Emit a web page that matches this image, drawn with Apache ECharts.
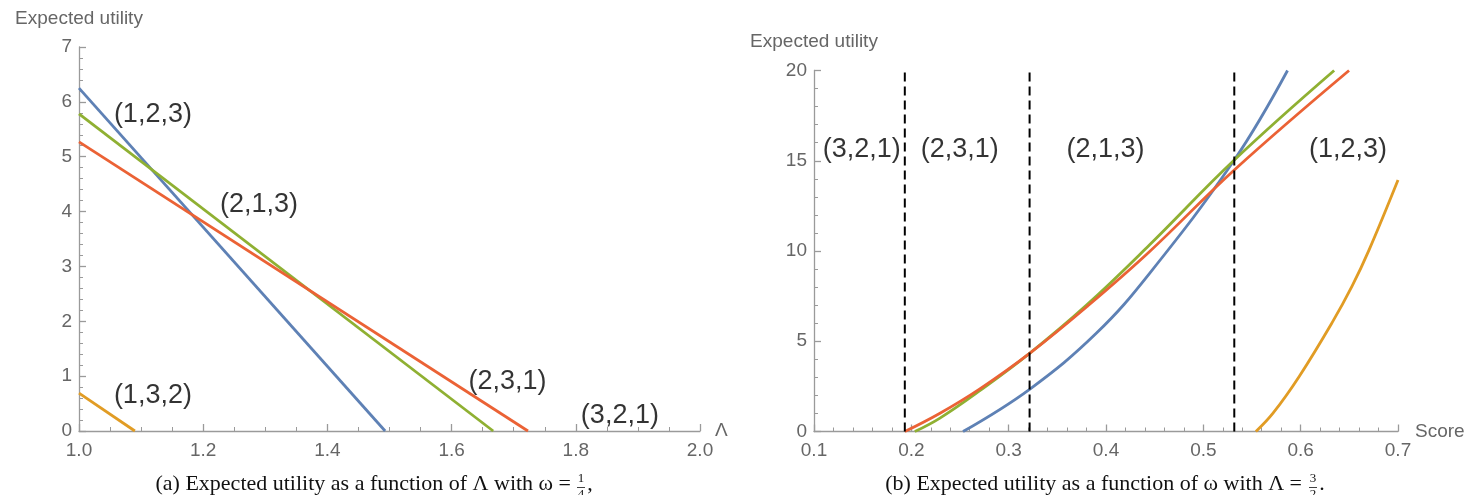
<!DOCTYPE html>
<html>
<head>
<meta charset="utf-8">
<script src="https://cdn.jsdelivr.net/npm/echarts@6/dist/echarts.min.js"></script>
<style>
html,body{margin:0;padding:0;background:#fff;}
#c{width:1469px;height:495px;}
</style>
</head>
<body>
<div id="c"></div>
<script>
// ---------- data ----------
// Panel (a): expected utility vs Lambda (omega = 1/4)
const aX123 = [1.0, 1.493];   const aY123 = [6.25, 0];
const aX132 = [1.0, 1.09];    const aY132 = [0.69, 0];
const aX213 = [1.0, 1.667];   const aY213 = [5.78, 0];
const aX231 = [1.0, 1.723];   const aY231 = [5.27, 0];
const aXTicks = ['1.0','1.2','1.4','1.6','1.8','2.0'];
const aYTicks = ['0','1','2','3','4','5','6','7'];
const aLabels = [
  [1.119, 5.76, '(1,2,3)'],
  [1.290, 4.12, '(2,1,3)'],
  [1.119, 0.64, '(1,3,2)'],
  [1.690, 0.91, '(2,3,1)'],
  [1.871, 0.29, '(3,2,1)']
];
// Panel (b): expected utility vs omega (Lambda = 3/2)
const bX123 = [0.2531, 0.3215, 0.390, 0.4446, 0.5318, 0.5865];
const bY123 = [0, 2.34, 5.44, 8.75, 15.04, 20];
const bX132 = [0.554, 0.5718, 0.5985, 0.6323, 0.6528, 0.6703, 0.700];
const bY132 = [0, 1.03, 3.05, 6.03, 8.05, 10.06, 13.93];
const bX213 = [0.2036, 0.229, 0.270, 0.3215, 0.380, 0.4446, 0.5318, 0.6344];
const bY213 = [0, 0.73, 2.25, 4.33, 7.0, 10.33, 15.04, 20];
const bX231 = [0.1933, 0.229, 0.270, 0.3215, 0.380, 0.4446, 0.5318, 0.6497];
const bY231 = [0, 1.0, 2.35, 4.33, 6.9, 9.96, 14.49, 20];
const bDividers = [0.1933, 0.3215, 0.5318];
const bXTicks = ['0.1','0.2','0.3','0.4','0.5','0.6','0.7'];
const bYTicks = ['0','5','10','15','20'];
const bLabels = [
  [0.149, 15.6, '(3,2,1)'],
  [0.2497, 15.6, '(2,3,1)'],
  [0.3995, 15.6, '(2,1,3)'],
  [0.6487, 15.6, '(1,2,3)']
];

// ---------- styles ----------
const C = {blue:'#5E81B5', orange:'#E19C24', green:'#8FB032', red:'#EB6235'};
const axisGray = '#9a9a9a';
const labelGray = '#666666';
const sans = 'Liberation Sans, Arial, sans-serif';
const serif = 'Liberation Serif, DejaVu Serif, serif';

function zip(xs, ys){ return xs.map((x,i)=>[x, ys[i]]); }
function tickFmt(list, digits){ return v => { const s = digits ? v.toFixed(digits) : String(Math.round(v)); return list.includes(s) ? s : ''; }; }

function xAxis(idx, min, max, interval, ticks, name, gap, minorSplit){
  return {
    type:'value', gridIndex:idx, min, max, interval,
    name, nameLocation:'end', nameGap:gap,
    nameTextStyle:{color:labelGray, fontFamily:sans, fontSize:19},
    axisLine:{show:true, onZero:false, lineStyle:{color:axisGray, width:1.3}},
    axisTick:{show:true, inside:true, length:7, lineStyle:{color:axisGray, width:1.3}},
    minorTick:{show:true, splitNumber:minorSplit, length:4, lineStyle:{color:axisGray, width:1}},
    axisLabel:{color:labelGray, fontFamily:sans, fontSize:19, margin:10, formatter:tickFmt(ticks,1)},
    splitLine:{show:false}
  };
}
function yAxis(idx, min, max, interval, ticks, minorSplit){
  return {
    type:'value', gridIndex:idx, min, max, interval,
    name:'Expected utility', nameLocation:'end', nameGap:19,
    nameTextStyle:{color:labelGray, fontFamily:sans, fontSize:19, align:'center'},
    axisLine:{show:true, onZero:false, lineStyle:{color:axisGray, width:1.3}},
    axisTick:{show:true, inside:true, length:7, lineStyle:{color:axisGray, width:1.3}},
    minorTick:{show:true, splitNumber:minorSplit, length:4, lineStyle:{color:axisGray, width:1}},
    axisLabel:{color:labelGray, fontFamily:sans, fontSize:19, margin:7, formatter:tickFmt(ticks,0)},
    splitLine:{show:false}
  };
}
function curve(idx, xs, ys, color, smooth){
  return {type:'line', xAxisIndex:idx, yAxisIndex:idx, data:zip(xs,ys), symbol:'none',
    smooth: smooth ? 0.4 : false,
    lineStyle:{color, width:2.8}, silent:true, z:3};
}
function labels(idx, list){
  return {type:'scatter', xAxisIndex:idx, yAxisIndex:idx, data:list, symbolSize:1,
    itemStyle:{color:'rgba(0,0,0,0)'}, silent:true, z:10,
    label:{show:true, position:'inside', color:'#000', fontFamily:sans, fontSize:27,
      formatter:p=>p.data[2]}};
}

const series = [
  curve(0, aX123, aY123, C.blue, false),
  curve(0, aX132, aY132, C.orange, false),
  curve(0, aX213, aY213, C.green, false),
  curve(0, aX231, aY231, C.red, false),
  labels(0, aLabels),
  curve(1, bX123, bY123, C.blue, true),
  curve(1, bX132, bY132, C.orange, true),
  curve(1, bX213, bY213, C.green, true),
  curve(1, bX231, bY231, C.red, true),
  labels(1, bLabels)
];
bDividers.forEach(d => series.push({
  type:'line', xAxisIndex:1, yAxisIndex:1, data:[[d,0],[d,20]], symbol:'none', silent:true, z:4,
  lineStyle:{color:'#000', width:2, type:[9,5]}
}));

function caption(rightX, text, num, den, fracX, punct, punctX){
  const y = 484;
  return [
    {type:'text', x:rightX, y:y, style:{text, fill:'#111', font:'22px '+serif, textAlign:'right', textVerticalAlign:'middle'}},
    {type:'text', x:fracX, y:478.5, style:{text:num, fill:'#111', font:'13px '+serif, textAlign:'center', textVerticalAlign:'middle'}},
    {type:'line', shape:{x1:fracX-4, y1:487.5, x2:fracX+4, y2:487.5}, style:{stroke:'#111', lineWidth:0.8}},
    {type:'text', x:fracX, y:495, style:{text:den, fill:'#111', font:'13px '+serif, textAlign:'center', textVerticalAlign:'middle'}},
    {type:'text', x:punctX, y:y, style:{text:punct, fill:'#111', font:'22px '+serif, textAlign:'center', textVerticalAlign:'middle'}}
  ];
}

const chart = echarts.init(document.getElementById('c'), null, {renderer:'canvas'});
chart.setOption({
  animation:false,
  backgroundColor:'#fff',
  grid:[
    {left:79, top:47, width:621, height:384},
    {left:814, top:70.5, width:584, height:361}
  ],
  xAxis:[
    xAxis(0, 1, 2, 0.2, aXTicks, 'Λ', 15, 4),
    xAxis(1, 0.1, 0.7, 0.1, bXTicks, 'Score', 17, 5)
  ],
  yAxis:[
    yAxis(0, 0, 7, 1, aYTicks, 5),
    yAxis(1, 0, 20, 5, bYTicks, 5)
  ],
  series,
  graphic:[
    ...caption(571, '(a) Expected utility as a function of Λ with ω =', '1', '4', 581, ',', 590),
    ...caption(1302, '(b) Expected utility as a function of ω with Λ =', '3', '2', 1313, '.', 1322)
  ]
});
</script>
</body>
</html>
